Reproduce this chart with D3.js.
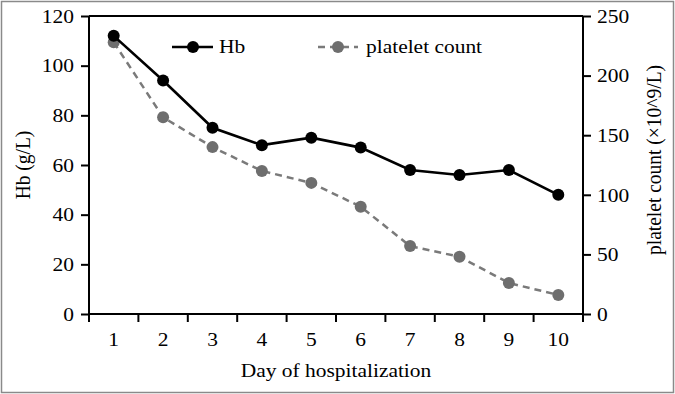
<!DOCTYPE html>
<html>
<head>
<meta charset="utf-8">
<script src="https://cdn.jsdelivr.net/npm/d3@7"></script>
<style>
  body { margin: 0; background: #fff; }
  text { font-family: "Liberation Serif", "DejaVu Serif", serif; }
</style>
</head>
<body>
<div id="chart"></div>
<script>
const days = [1, 2, 3, 4, 5, 6, 7, 8, 9, 10];
const hb = [112, 94, 75, 68, 71, 67, 58, 56, 58, 48];
const platelets = [228, 165, 140, 120, 110, 90, 57, 48, 26, 16];
const hbTicks = [0, 20, 40, 60, 80, 100, 120];
const pltTicks = [0, 50, 100, 150, 200, 250];

const width = 675, height = 394;
const margin = { top: 16, right: 92, bottom: 80, left: 89 };
const fs = 19.5, sx = 1.1; // the source picture is a bit wide, so text is stretched

const svg = d3.select("#chart").append("svg")
  .attr("width", width)
  .attr("height", height);

// outer frame
svg.append("rect")
  .attr("x", 1.5).attr("y", 1.5)
  .attr("width", width - 3).attr("height", height - 3)
  .attr("fill", "none").attr("stroke", "#8a8a8a").attr("stroke-width", 1.5);

const x = d3.scaleBand().domain(days).range([margin.left, width - margin.right]);
const yL = d3.scaleLinear().domain([0, 120]).range([height - margin.bottom, margin.top]);
const yR = d3.scaleLinear().domain([0, 250]).range([height - margin.bottom, margin.top]);

const cx = d => x(d) + x.bandwidth() / 2;

// helper: horizontal text, stretched a little
function label(g, tx, ty, str, anchor) {
  return g.append("text")
    .attr("transform", `translate(${tx},${ty}) scale(${sx},1)`)
    .attr("text-anchor", anchor || "start")
    .attr("font-size", fs)
    .attr("fill", "#000")
    .text(str);
}

// top border of plot
svg.append("line")
  .attr("x1", margin.left).attr("x2", width - margin.right)
  .attr("y1", margin.top).attr("y2", margin.top)
  .attr("stroke", "#000").attr("stroke-width", 2);

// x axis with ticks at band boundaries
const xAxis = svg.append("g").attr("transform", `translate(0,${height - margin.bottom})`);
xAxis.append("line")
  .attr("x1", margin.left).attr("x2", width - margin.right)
  .attr("stroke", "#000").attr("stroke-width", 2);
const bounds = days.map(d => x(d)).concat([width - margin.right]);
xAxis.selectAll(".xt").data(bounds).enter().append("line")
  .attr("x1", d => d).attr("x2", d => d)
  .attr("y1", 0).attr("y2", 8)
  .attr("stroke", "#000").attr("stroke-width", 2);
days.forEach(d => label(xAxis, cx(d), 32, d, "middle"));

const left = svg.append("g")
  .attr("transform", `translate(${margin.left},0)`)
  .call(d3.axisLeft(yL).tickValues(hbTicks).tickSize(8).tickPadding(7));
const right = svg.append("g")
  .attr("transform", `translate(${width - margin.right},0)`)
  .call(d3.axisRight(yR).tickValues(pltTicks).tickSize(8).tickPadding(6));
[left, right].forEach(g => {
  g.select(".domain").attr("stroke-width", 2)
    .attr("d", `M0,${margin.top}V${height - margin.bottom}`);
  g.selectAll(".tick line").attr("stroke-width", 2);
  g.selectAll(".tick text")
    .attr("font-size", fs).attr("fill", "#000")
    .attr("font-family", "Liberation Serif, serif")
    .attr("transform", function () {
      const tx = +d3.select(this).attr("x");
      return `translate(${tx},0) scale(${sx},1)`;
    })
    .attr("x", 0);
});

// axis titles
label(svg, (margin.left + width - margin.right) / 2, 377, "Day of hospitalization", "middle");
svg.append("text")
  .attr("transform", `translate(30,165) rotate(-90) scale(1,${sx})`)
  .attr("text-anchor", "middle").attr("font-size", fs)
  .text("Hb (g/L)");
svg.append("text")
  .attr("transform", `translate(661,160) rotate(-90) scale(1,${sx})`)
  .attr("text-anchor", "middle").attr("font-size", fs)
  .text("platelet count (×10^9/L)");

// series
const pltColor = "#6e6e6e";
svg.append("path")
  .datum(platelets)
  .attr("fill", "none").attr("stroke", "#7a7a7a").attr("stroke-width", 2.5)
  .attr("stroke-dasharray", "7,5")
  .attr("d", d3.line().x((d, i) => cx(days[i])).y(d => yR(d)));
svg.selectAll(".pp").data(platelets).enter().append("circle")
  .attr("cx", (d, i) => cx(days[i])).attr("cy", d => yR(d))
  .attr("r", 6).attr("fill", pltColor);

svg.append("path")
  .datum(hb)
  .attr("fill", "none").attr("stroke", "#000").attr("stroke-width", 2.6)
  .attr("d", d3.line().x((d, i) => cx(days[i])).y(d => yL(d)));
svg.selectAll(".hp").data(hb).enter().append("circle")
  .attr("cx", (d, i) => cx(days[i])).attr("cy", d => yL(d))
  .attr("r", 6).attr("fill", "#000");

// legend
const lg = svg.append("g");
lg.append("line").attr("x1", 172).attr("x2", 213).attr("y1", 47).attr("y2", 47)
  .attr("stroke", "#000").attr("stroke-width", 2.6);
lg.append("circle").attr("cx", 193).attr("cy", 47).attr("r", 6).attr("fill", "#000");
label(lg, 219, 53, "Hb");
lg.append("line").attr("x1", 318).attr("x2", 358).attr("y1", 47).attr("y2", 47)
  .attr("stroke", "#7a7a7a").attr("stroke-width", 2.5).attr("stroke-dasharray", "7,5");
lg.append("circle").attr("cx", 338).attr("cy", 47).attr("r", 6).attr("fill", pltColor);
label(lg, 366, 53, "platelet count");
</script>
</body>
</html>
